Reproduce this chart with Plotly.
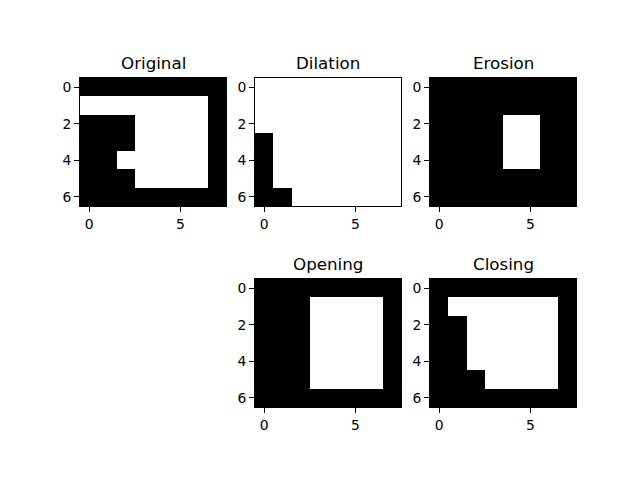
import plotly.graph_objects as go

# binary images (rows top to bottom, 7 rows x 8 cols)
original = [
    [0, 0, 0, 0, 0, 0, 0, 0],
    [1, 1, 1, 1, 1, 1, 1, 0],
    [0, 0, 0, 1, 1, 1, 1, 0],
    [0, 0, 0, 1, 1, 1, 1, 0],
    [0, 0, 1, 1, 1, 1, 1, 0],
    [0, 0, 0, 1, 1, 1, 1, 0],
    [0, 0, 0, 0, 0, 0, 0, 0],
]
dilation = [
    [1, 1, 1, 1, 1, 1, 1, 1],
    [1, 1, 1, 1, 1, 1, 1, 1],
    [1, 1, 1, 1, 1, 1, 1, 1],
    [0, 1, 1, 1, 1, 1, 1, 1],
    [0, 1, 1, 1, 1, 1, 1, 1],
    [0, 1, 1, 1, 1, 1, 1, 1],
    [0, 0, 1, 1, 1, 1, 1, 1],
]
erosion = [
    [0, 0, 0, 0, 0, 0, 0, 0],
    [0, 0, 0, 0, 0, 0, 0, 0],
    [0, 0, 0, 0, 1, 1, 0, 0],
    [0, 0, 0, 0, 1, 1, 0, 0],
    [0, 0, 0, 0, 1, 1, 0, 0],
    [0, 0, 0, 0, 0, 0, 0, 0],
    [0, 0, 0, 0, 0, 0, 0, 0],
]
opening = [
    [0, 0, 0, 0, 0, 0, 0, 0],
    [0, 0, 0, 1, 1, 1, 1, 0],
    [0, 0, 0, 1, 1, 1, 1, 0],
    [0, 0, 0, 1, 1, 1, 1, 0],
    [0, 0, 0, 1, 1, 1, 1, 0],
    [0, 0, 0, 1, 1, 1, 1, 0],
    [0, 0, 0, 0, 0, 0, 0, 0],
]
closing = [
    [0, 0, 0, 0, 0, 0, 0, 0],
    [0, 1, 1, 1, 1, 1, 1, 0],
    [0, 0, 1, 1, 1, 1, 1, 0],
    [0, 0, 1, 1, 1, 1, 1, 0],
    [0, 0, 1, 1, 1, 1, 1, 0],
    [0, 0, 0, 1, 1, 1, 1, 0],
    [0, 0, 0, 0, 0, 0, 0, 0],
]

titles = ["Original", "Dilation", "Erosion", "Opening", "Closing"]
images = [original, dilation, erosion, opening, closing]
slots = [(0, 0), (0, 1), (0, 2), (1, 1), (1, 2)]  # (row, col) in a 2x3 grid

W, H = 640, 480
OFF = 8  # page body margin in the browser
# matplotlib-like axes geometry in pixels
left, right, top, bottom = 80, 576, 57.6, 427.2
ax_w = (right - left) / 3.4
cell_h = (bottom - top) / 2.2
img_h = ax_w * 7 / 8

fig = go.Figure()
font = dict(family="DejaVu Sans", size=13.9, color="black")

for i, (img, title, (r, c)) in enumerate(zip(images, titles, slots)):
    n = i + 1
    x0 = round(left + c * ax_w * 1.2 - OFF)
    x1 = round(left + c * ax_w * 1.2 + ax_w - OFF)
    y0 = round(top + r * cell_h * 1.2 + (cell_h - img_h) / 2 - OFF)
    y1 = round(y0 + img_h)
    xd = [x0 / W, x1 / W]
    yd = [1 - y1 / H, 1 - y0 / H]
    xa = "x" if n == 1 else f"x{n}"
    ya = "y" if n == 1 else f"y{n}"
    fig.add_trace(go.Heatmap(
        z=img, x=list(range(8)), y=list(range(7)),
        colorscale=[[0, "black"], [1, "white"]], zmin=0, zmax=1,
        showscale=False, hoverinfo="skip", xaxis=xa, yaxis=ya,
    ))
    axis_common = dict(
        showgrid=False, zeroline=False, showline=True, mirror=True,
        linecolor="black", linewidth=1, ticks="outside", ticklen=5,
        tickwidth=1, tickcolor="black", tickfont=font,
    )
    fig.layout[f"xaxis{'' if n == 1 else n}"] = dict(
        domain=xd, range=[-0.5, 7.5], tickvals=[0, 5], anchor=ya, **axis_common)
    fig.layout[f"yaxis{'' if n == 1 else n}"] = dict(
        domain=yd, range=[6.5, -0.5], tickvals=[0, 2, 4, 6], anchor=xa, **axis_common)
    fig.add_annotation(
        text=title, xref="paper", yref="paper", showarrow=False,
        x=(x0 + x1) / 2 / W, y=1 - (y0 - 3) / H, xanchor="center", yanchor="bottom",
        font=dict(family="DejaVu Sans", size=16.7, color="black"),
    )

fig.update_layout(
    width=W, height=H, margin=dict(l=0, r=0, t=0, b=0),
    paper_bgcolor="white", plot_bgcolor="white", showlegend=False,
)
fig.write_html("out.html")
